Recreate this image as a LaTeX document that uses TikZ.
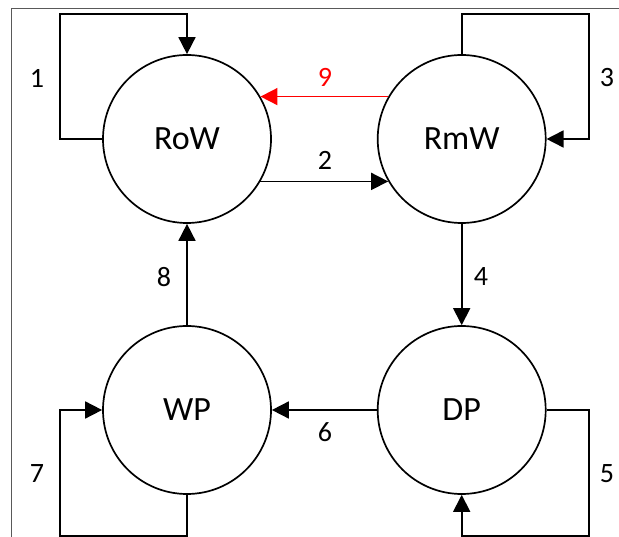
\documentclass[tikz,border=0pt]{standalone}
\usepackage{fontspec}
\setmainfont{Carlito}
\usetikzlibrary{arrows.meta}
\begin{document}
\begin{tikzpicture}[x=1pt,y=-1pt,
  state/.style={circle,draw,line width=1.7pt,minimum size=168pt,inner sep=0pt,font=\fontsize{34}{40}\selectfont},
  flow/.style={line width=1.7pt,-{Triangle[length=17pt,width=17pt]}},
  num/.style={font=\fontsize{28}{33}\selectfont,inner sep=0pt}]
  \useasboundingbox (0,0) rectangle (619,537);
  % frame edges
  \draw[black!65,line width=1.2pt] (11.7,537) -- (11.7,8.5) -- (619,8.5);

  % states
  \node[state] (row) at (187,139) {RoW};
  \node[state] (rmw) at (461.7,139) {RmW};
  \node[state] (wp)  at (187,410) {WP};
  \node[state] (dp)  at (461.7,410) {DP};

  % loop corners
  \coordinate (l1) at (60.3,14);
  \coordinate (l3) at (588.7,14);
  \coordinate (l5) at (588.7,535.7);
  \coordinate (l7) at (60.3,535.7);

  % transitions
  \draw[flow] (row.west) -| (l1) -| (row.north);
  \draw[flow] (row.-30) -- (rmw.210);
  \draw[flow] (rmw.north) |- (l3) |- (rmw.east);
  \draw[flow] (rmw.south) -- (dp.north);
  \draw[flow] (dp.east) -| (l5) -| (dp.south);
  \draw[flow] (dp.west) -- (wp.east);
  \draw[flow] (wp.south) |- (l7) |- (wp.west);
  \draw[flow] (wp.north) -- (row.south);
  \draw[flow,red] (rmw.150) -- (row.30);

  % labels
  \node[num] (n1) at (37,78) {1};
  \node[num] (n2) at (325,160) {2};
  \node[num] (n3) at (607,78) {3};
  \node[num] (n4) at (481,277) {4};
  \node[num] (n5) at (607,474) {5};
  \node[num] (n6) at (325,432) {6};
  \node[num] (n7) at (37,474) {7};
  \node[num] (n8) at (164,277) {8};
  \node[num,red] (n9) at (325,77) {9};
\end{tikzpicture}
\end{document}
